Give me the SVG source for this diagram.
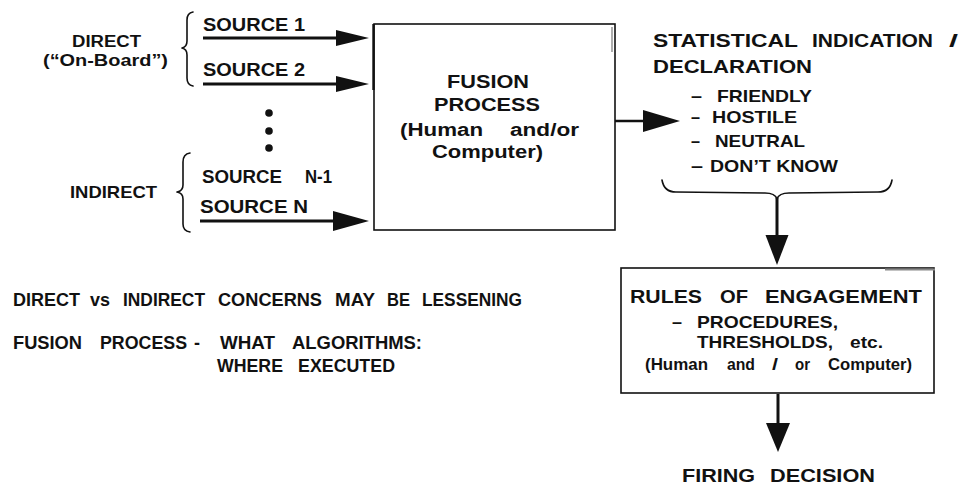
<svg xmlns="http://www.w3.org/2000/svg" width="968" height="485" viewBox="0 0 968 485">
  <style>
    text { font-family: "Liberation Sans", Arial, Helvetica, sans-serif; font-weight: bold; fill: #111; }
    .t19 { font-size: 19px; }
    .t18 { font-size: 18px; }
    .t17 { font-size: 17px; }
    .t16 { font-size: 16px; }
    .box { fill: none; stroke: #111; stroke-width: 1.6; }
    .brace { fill: none; stroke: #111; stroke-width: 1.6; stroke-linecap: round; stroke-linejoin: round; }
    .shaft { stroke: #111; stroke-width: 3; fill: none; }
    .head { fill: #111; stroke: none; }
  </style>
  <rect width="968" height="485" fill="#fff"/>

  <!-- Source grouping labels and braces -->
  <g id="direct-label">
    <text class="t16" x="72" y="47" textLength="69" lengthAdjust="spacingAndGlyphs">DIRECT</text>
    <text class="t16" x="43" y="66" textLength="125" lengthAdjust="spacingAndGlyphs">(“On-Board”)</text>
    <path class="brace" d="M193,12 Q187,13 187,20 L187,41 Q187,47 182,48 Q187,49 187,55 L187,78 Q187,85 193,86"/>
  </g>
  <g id="indirect-label">
    <text class="t17" x="70" y="198" textLength="87" lengthAdjust="spacingAndGlyphs">INDIRECT</text>
    <path class="brace" d="M190,153 Q183,154 183,162 L183,185 Q183,191 177,192 Q183,193 183,199 L183,224 Q183,231 190,232"/>
  </g>

  <!-- Sources -->
  <g id="source-1">
    <text class="t18" x="203" y="31" textLength="102" lengthAdjust="spacingAndGlyphs">SOURCE 1</text>
  </g>
  <g id="source-2">
    <text class="t18" x="203" y="76" textLength="102" lengthAdjust="spacingAndGlyphs">SOURCE 2</text>
  </g>
  <g id="ellipsis">
    <circle cx="269" cy="113" r="3.8" fill="#111"/>
    <circle cx="269" cy="131" r="3.8" fill="#111"/>
    <circle cx="269" cy="148" r="3.8" fill="#111"/>
  </g>
  <g id="source-n-1">
    <text class="t18" y="183"><tspan x="202" textLength="80" lengthAdjust="spacingAndGlyphs">SOURCE</tspan><tspan x="305" textLength="27" lengthAdjust="spacingAndGlyphs">N-1</tspan></text>
  </g>
  <g id="source-n">
    <text class="t18" x="200" y="213" textLength="108" lengthAdjust="spacingAndGlyphs">SOURCE N</text>
  </g>

  <!-- Fusion process -->
  <g id="fusion-process">
    <rect class="box" x="374" y="24" width="241" height="206"/>
    <line x1="373.5" y1="24" x2="373.5" y2="90" stroke="#111" stroke-width="2.4"/>
    <line x1="612" y1="27" x2="612" y2="52" stroke="#777" stroke-width="1.2"/>
    <text class="t19" x="447" y="88" textLength="82" lengthAdjust="spacingAndGlyphs">FUSION</text>
    <text class="t19" x="434" y="111" textLength="106" lengthAdjust="spacingAndGlyphs">PROCESS</text>
    <text class="t18" y="136"><tspan x="400" textLength="83" lengthAdjust="spacingAndGlyphs">(Human</tspan><tspan x="510" textLength="69" lengthAdjust="spacingAndGlyphs">and/or</tspan></text>
    <text class="t18" x="432" y="158" textLength="111" lengthAdjust="spacingAndGlyphs">Computer)</text>
  </g>

  <!-- Statistical indication / declaration -->
  <g id="declaration">
    <text class="t19" y="47"><tspan x="653" textLength="145" lengthAdjust="spacingAndGlyphs">STATISTICAL</tspan><tspan x="812" textLength="121" lengthAdjust="spacingAndGlyphs">INDICATION</tspan><tspan x="949" textLength="9" lengthAdjust="spacingAndGlyphs">/</tspan></text>
    <text class="t19" x="653" y="73" textLength="159" lengthAdjust="spacingAndGlyphs">DECLARATION</text>
    <text class="t17" y="102"><tspan x="691" textLength="11" lengthAdjust="spacingAndGlyphs">–</tspan><tspan x="717" textLength="95" lengthAdjust="spacingAndGlyphs">FRIENDLY</tspan></text>
    <text class="t17" y="123"><tspan x="691" textLength="9" lengthAdjust="spacingAndGlyphs">–</tspan><tspan x="712" textLength="85" lengthAdjust="spacingAndGlyphs">HOSTILE</tspan></text>
    <text class="t17" y="147"><tspan x="691" textLength="9" lengthAdjust="spacingAndGlyphs">–</tspan><tspan x="715" textLength="90" lengthAdjust="spacingAndGlyphs">NEUTRAL</tspan></text>
    <text class="t17" y="172"><tspan x="691" textLength="12" lengthAdjust="spacingAndGlyphs">–</tspan><tspan x="710" textLength="128" lengthAdjust="spacingAndGlyphs">DON’T KNOW</tspan></text>
    <path class="brace" d="M662,180 Q664,192 676,192 L765,193 Q775,193 777,199 Q779,193 789,193 L878,192 Q890,192 892,180"/>
  </g>

  <!-- Rules of engagement -->
  <g id="rules-of-engagement">
    <rect class="box" x="621" y="268" width="313" height="125"/>
    <line x1="885" y1="269.5" x2="935" y2="269.5" stroke="#888" stroke-width="2"/>
    <text class="t18" y="303"><tspan x="630" textLength="72" lengthAdjust="spacingAndGlyphs">RULES</tspan><tspan x="720" textLength="28" lengthAdjust="spacingAndGlyphs">OF</tspan><tspan x="765" textLength="157" lengthAdjust="spacingAndGlyphs">ENGAGEMENT</tspan></text>
    <text class="t17" y="328"><tspan x="672" textLength="10" lengthAdjust="spacingAndGlyphs">–</tspan><tspan x="697" textLength="141" lengthAdjust="spacingAndGlyphs">PROCEDURES,</tspan></text>
    <text class="t17" y="348"><tspan x="697" textLength="136" lengthAdjust="spacingAndGlyphs">THRESHOLDS,</tspan><tspan x="850" textLength="33" lengthAdjust="spacingAndGlyphs">etc.</tspan></text>
    <text class="t16" y="370"><tspan x="645" textLength="63" lengthAdjust="spacingAndGlyphs">(Human</tspan><tspan x="727" textLength="28" lengthAdjust="spacingAndGlyphs">and</tspan><tspan x="772" textLength="6" lengthAdjust="spacingAndGlyphs">/</tspan><tspan x="795" textLength="15" lengthAdjust="spacingAndGlyphs">or</tspan><tspan x="828" textLength="84" lengthAdjust="spacingAndGlyphs">Computer)</tspan></text>
  </g>

  <g id="firing-decision">
    <text class="t19" y="482"><tspan x="682" textLength="73" lengthAdjust="spacingAndGlyphs">FIRING</tspan><tspan x="770" textLength="105" lengthAdjust="spacingAndGlyphs">DECISION</tspan></text>
  </g>

  <!-- Notes -->
  <g id="notes">
    <text class="t18" y="306"><tspan x="13" textLength="67" lengthAdjust="spacingAndGlyphs">DIRECT</tspan><tspan x="90" textLength="20" lengthAdjust="spacingAndGlyphs">vs</tspan><tspan x="123" textLength="82" lengthAdjust="spacingAndGlyphs">INDIRECT</tspan><tspan x="218" textLength="104" lengthAdjust="spacingAndGlyphs">CONCERNS</tspan><tspan x="335" textLength="40" lengthAdjust="spacingAndGlyphs">MAY</tspan><tspan x="387" textLength="23" lengthAdjust="spacingAndGlyphs">BE</tspan><tspan x="422" textLength="100" lengthAdjust="spacingAndGlyphs">LESSENING</tspan></text>
    <text class="t18" y="349"><tspan x="13" textLength="69" lengthAdjust="spacingAndGlyphs">FUSION</tspan><tspan x="100" textLength="87" lengthAdjust="spacingAndGlyphs">PROCESS</tspan><tspan x="194" textLength="6" lengthAdjust="spacingAndGlyphs">-</tspan><tspan x="220" textLength="55" lengthAdjust="spacingAndGlyphs">WHAT</tspan><tspan x="292" textLength="130" lengthAdjust="spacingAndGlyphs">ALGORITHMS:</tspan></text>
    <text class="t18" y="372"><tspan x="217" textLength="66" lengthAdjust="spacingAndGlyphs">WHERE</tspan><tspan x="298" textLength="97" lengthAdjust="spacingAndGlyphs">EXECUTED</tspan></text>
  </g>

  <!-- Connectors -->
  <g id="connectors">
    <line class="shaft" x1="203" y1="38" x2="340" y2="38"/>
    <polygon class="head" points="336,30 369,38 336,46"/>
    <line class="shaft" x1="203" y1="84" x2="340" y2="84"/>
    <polygon class="head" points="336,76 369,84 336,92"/>
    <line class="shaft" x1="200" y1="221" x2="340" y2="221"/>
    <polygon class="head" points="333,211 369,221 333,231"/>
    <line class="shaft" style="stroke-width:2.6" x1="615" y1="121" x2="648" y2="121"/>
    <polygon class="head" points="643,110 680,121 643,132"/>
    <line class="shaft" x1="777" y1="198" x2="777" y2="240"/>
    <polygon class="head" points="765.5,235 788.5,235 777,265"/>
    <line class="shaft" x1="778" y1="394" x2="778" y2="428"/>
    <polygon class="head" points="766,423 790,423 778,452"/>
  </g>
</svg>
